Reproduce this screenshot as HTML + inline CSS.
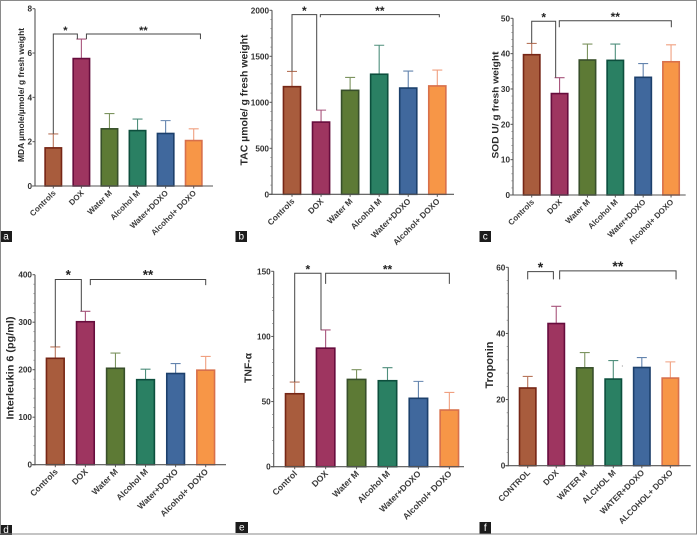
<!DOCTYPE html>
<html>
<head>
<meta charset="utf-8">
<style>
html,body{margin:0;padding:0;background:#fff;width:697px;height:535px;overflow:hidden}
svg{display:block;font-family:"Liberation Sans",sans-serif}
</style>
</head>
<body>
<svg id="figure" width="697" height="535" viewBox="0 0 697 535" xmlns="http://www.w3.org/2000/svg">
<defs><filter id="soft" x="-2%" y="-2%" width="104%" height="104%"><feGaussianBlur stdDeviation="0.35"/></filter></defs>
<rect width="697" height="535" fill="#fff"/>
<g id="root" filter="url(#soft)"></g>
<circle cx="622.3" cy="366" r="0.5" fill="#666"/>
<rect x="0.5" y="0.5" width="696" height="533.5" fill="none" stroke="#8a8a8a" stroke-width="1"/>
</svg>
<script>
// ---- chart data ----
const categoriesStd = ["Controls","DOX","Water M","Alcohol M","Water+DOXO","Alcohol+ DOXO"];
const categoriesE = ["Control","DOX","Water M","Alcohol M","Water+DOXO","Alcohol+ DOXO"];
const categoriesF = ["CONTROL","DOX","WATER M","ALCHOL M","WATER+DOXO","ALCOHOL+ DOXO"];

const meansA = [1.72,5.75,2.58,2.5,2.37,2.05];
const upperA = [2.35,6.63,3.27,3.02,2.95,2.58];
const ticksA = [0,2,4,6,8];

const meansB = [1170,785,1130,1305,1155,1178];
const upperB = [1335,915,1270,1620,1340,1350];
const ticksB = [0,500,1000,1500,2000];

const meansC = [39.7,28.7,38.2,38.1,33.3,37.7];
const upperC = [42.9,33.2,42.7,42.7,37.2,42.5];
const ticksC = [0,10,20,30,40,50];

const meansD = [224,301,203,179,192,199];
const upperD = [248,323,235,201,213,228];
const ticksD = [0,100,200,300,400];

const meansE = [56,91,67,66,52.5,43.5];
const upperE = [65,105,74.5,76,65.5,57];
const ticksE = [0,50,100,150];

const meansF = [23.5,43,29.6,26.2,29.7,26.5];
const upperF = [27,48.2,34.2,31.8,32.7,31.4];
const ticksF = [0,20,40,60];

// ---- styling ----
const fills = ["#a85c3c","#9e3560","#5d7a36","#2a8064","#40679d","#f79646"];
const strokes = ["#762512","#660a3c","#37502a","#0c4f3e","#1c3f6c","#d8704c"];
const errColors = ["#b8765c","#a8557c","#7d9460","#4f8f7c","#6484ae","#f0a080"];

const SVGNS = "http://www.w3.org/2000/svg";
const root = document.getElementById("root");
function mk(parent, tag, attrs, text){
  const e = document.createElementNS(SVGNS, tag);
  for (const k in attrs) e.setAttribute(k, attrs[k]);
  if (text !== undefined) e.textContent = text;
  parent.appendChild(e);
  return e;
}

const panels = [
 {id:"a",cats:categoriesStd,means:meansA,upper:upperA,ticks:ticksA,minor:0,title:"MDA \u00b5mole/\u00b5mole/ g fresh weight",
  axisX:35,y0:186,yTop:8.7,xEnd:213,c0:53.3,step:28.08,barW:18,
  titleX:21,titleY:95,titleLen:134,titleSize:8.3,
  tag:[0,231,12,11],starSize:11,labelSize:8,
  brackets:[{a:0,b:0.857,top:6.86,la:2.35,lb:6.63,stars:"*"},{a:1.18,b:5.24,top:6.86,la:6.63,lb:6.63,stars:"**"}]},
 {id:"b",cats:categoriesStd,means:meansB,upper:upperB,ticks:ticksB,minor:5,title:"TAC \u00b5mole/ g fresh weight",
  axisX:272,y0:194.3,yTop:10.3,xEnd:454,c0:292,step:29.06,barW:18.7,
  titleX:244,titleY:100,titleLen:131,titleSize:10,
  tag:[235.5,231,11.5,11],starSize:12,labelSize:8.3,
  brackets:[{a:0,b:0.85,top:1953,la:1335,lb:917,stars:"*"},{a:0.975,b:5.07,top:1953,la:1924,lb:1924,stars:"**"}]},
 {id:"c",cats:categoriesStd,means:meansC,upper:upperC,ticks:ticksC,minor:5,title:"SOD U/ g fresh weight",
  axisX:513,y0:195,yTop:18.3,xEnd:685.7,c0:531.7,step:27.87,barW:18,
  titleX:495,titleY:105,titleLen:107,titleSize:9.6,
  tag:[479.5,231,11.5,11],starSize:12,labelSize:8,
  brackets:[{a:0,b:0.86,top:49.15,la:42.9,lb:33.2,stars:"*"},{a:0.99,b:5.01,top:49.3,la:47.45,lb:47.45,stars:"**"}]},
 {id:"d",cats:categoriesStd,means:meansD,upper:upperD,ticks:ticksD,minor:5,title:"Interleukin 6 (pg/ml)",
  axisX:35,y0:464.7,yTop:274.7,xEnd:226,c0:55.3,step:30.08,barW:19.3,
  titleX:10,titleY:368,titleLen:103,titleSize:9.9,
  tag:[0,525,12,10],starSize:13.5,labelSize:8.5,
  brackets:[{a:0,b:0.865,top:390,la:248,lb:323,stars:"*"},{a:1.164,b:5,top:390,la:378,lb:378,stars:"**"}]},
 {id:"e",cats:categoriesE,means:meansE,upper:upperE,ticks:ticksE,minor:5,title:"TNF-\u03b1",
  axisX:273.7,y0:466.7,yTop:271.3,xEnd:464,c0:294.7,step:30.93,barW:20,
  titleX:248,titleY:368,titleLen:30,titleSize:10.4,
  tag:[235.5,522,12.5,11],starSize:12,labelSize:8.7,
  brackets:[{a:0,b:0.85,top:148.5,la:65,lb:105,stars:"*"},{a:1,b:5,top:148.5,la:140.3,lb:140.3,stars:"**"}]},
 {id:"f",cats:categoriesF,means:meansF,upper:upperF,ticks:ticksF,minor:5,title:"Troponin",
  axisX:508.3,y0:465.7,yTop:267.3,xEnd:690.7,c0:527.7,step:28.53,barW:18,
  titleX:489,titleY:365,titleLen:47,titleSize:10.8,
  tag:[479.5,522,11.5,12],starSize:14,labelSize:8.3,
  brackets:[{a:0,b:0.9,top:58.7,la:56.35,lb:56.35,stars:"*"},{a:1.12,b:5.2,top:58.9,la:56.35,lb:56.35,stars:"**"}]}
];

panels.forEach(function(p){
  const maxV = p.ticks[p.ticks.length-1];
  const Y = function(v){ return p.y0 - (v/maxV)*(p.y0-p.yTop); };
  const X = function(i){ return p.c0 + i*p.step; };

  const g = mk(root,"g",{});
  
  

  // bars and error bars
  p.means.forEach(function(m,i){
    const cx = X(i), sw = 1.6;
    const err = mk(g,"path",{d:"M"+cx+" "+Y(m)+"V"+Y(p.upper[i])+"M"+(cx-5)+" "+Y(p.upper[i])+"H"+(cx+5),stroke:errColors[i],"stroke-width":1.1,fill:"none"});
    
    
    const bar = mk(g,"rect",{x:cx-p.barW/2+sw/2,y:Y(m),width:p.barW-sw,height:Math.max(0,p.y0-Y(m)),fill:fills[i],stroke:strokes[i],"stroke-width":sw});
    
    
  });

  // axes
  const yAxis = mk(g,"line",{x1:p.axisX,x2:p.axisX,y1:p.yTop,y2:p.y0+0.5,stroke:"#555","stroke-width":1.1});
  
  
  const xAxis = mk(g,"line",{x1:p.axisX-3,x2:p.xEnd,y1:p.y0,y2:p.y0,stroke:"#555","stroke-width":1.1});
  
  

  p.ticks.forEach(function(t,i){
    const y = Y(t);
    mk(g,"line",{x1:p.axisX-2.5,x2:p.axisX,y1:y,y2:y,stroke:"#555","stroke-width":1});
    const lab = mk(g,"text",{x:p.axisX-3,y:y+3,"text-anchor":"end","font-size":8.2,"font-weight":"bold",fill:"#333"},String(t));
    
    
    if (p.minor && i < p.ticks.length-1){
      for (let k=1;k<p.minor;k++){
        const ym = Y(t + (p.ticks[i+1]-t)*k/p.minor);
        mk(g,"line",{x1:p.axisX-1.6,x2:p.axisX,y1:ym,y2:ym,stroke:"#777","stroke-width":0.7});
      }
    }
  });

  // category ticks and labels
  p.cats.forEach(function(c,i){
    const cx = X(i);
    mk(g,"line",{x1:cx,x2:cx,y1:p.y0,y2:p.y0+2.5,stroke:"#555","stroke-width":1});
    const tx = cx+3, ty = p.y0+7.5;
    const lab = mk(g,"text",{x:tx,y:ty,"text-anchor":"end","font-size":p.labelSize,"font-weight":"bold",fill:"#3c3c3c",transform:"rotate(-45 "+tx+" "+ty+")"},c);
    
    
  });

  // y axis title
  const title = mk(g,"text",{x:p.titleX,y:p.titleY,"text-anchor":"middle","font-size":p.titleSize,"font-weight":"bold",fill:"#2a2a2a",textLength:p.titleLen,lengthAdjust:"spacingAndGlyphs",transform:"rotate(-90 "+p.titleX+" "+p.titleY+")",dy:"0.35em"},p.title);
  
  

  // significance brackets
  p.brackets.forEach(function(b,i){
    const xa = X(b.a), xb = X(b.b), yt = Y(b.top);
    const path = mk(g,"path",{d:"M"+xa+" "+Y(b.la)+"V"+yt+"H"+xb+"V"+Y(b.lb),fill:"none",stroke:"#444","stroke-width":1});
    
    
    const st = mk(g,"text",{x:(xa+xb)/2,y:yt+p.starSize*0.02,"text-anchor":"middle","font-size":p.starSize,"font-weight":"bold",fill:"#222"},b.stars);
    
    
  });

  // panel letter tag
  const tg = mk(g,"g",{});
  
  
  mk(tg,"rect",{x:p.tag[0],y:p.tag[1],width:p.tag[2],height:p.tag[3],fill:"#1c1c1c"});
  mk(tg,"text",{x:p.tag[0]+p.tag[2]/2,y:p.tag[1]+p.tag[3]/2+3.2,"text-anchor":"middle","font-size":10,fill:"#fff"},p.id);
});
</script>
</body>
</html>
